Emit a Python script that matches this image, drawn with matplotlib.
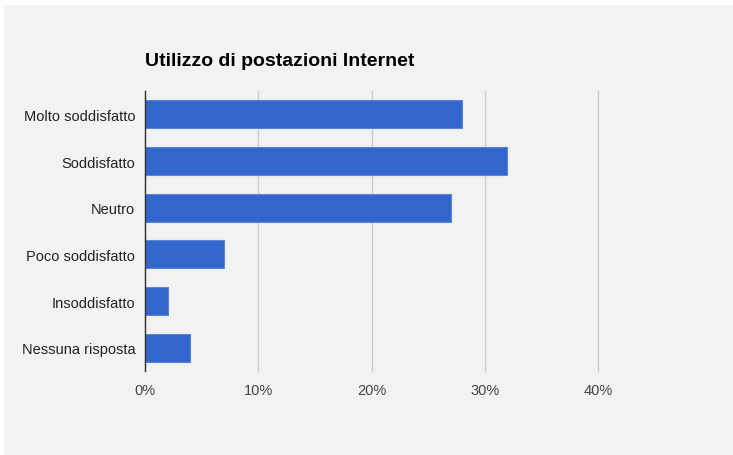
import matplotlib
matplotlib.use("Agg")
import matplotlib.pyplot as plt
from matplotlib.patches import Rectangle

categories = ["Molto soddisfatto", "Soddisfatto", "Neutro",
              "Poco soddisfatto", "Insoddisfatto", "Nessuna risposta"]
values = [28, 32, 27, 7, 2, 4]
x_ticks = [0, 10, 20, 30, 40]
x_tick_labels = ["0%", "10%", "20%", "30%", "40%"]
title = "Utilizzo di postazioni Internet"

W, H = 733, 456
fig = plt.figure(figsize=(W / 100, H / 100), dpi=100)
fig.patch.set_facecolor("white")

# light grey chart panel
fig.patches.append(Rectangle((4 / W, 0), 1 - 4 / W, 1 - 6 / H,
                             transform=fig.transFigure, facecolor="#f2f2f2",
                             edgecolor="none", zorder=-10))

left, right, top, bottom = 145, 598, 92, 372
ax = fig.add_axes([left / W, (H - bottom) / H, (right - left) / W, (bottom - top) / H])
ax.set_facecolor("none")

pos = list(range(len(categories)))
ax.barh(pos, values, height=0.6, color="#3366cc", edgecolor="#5a85d8",
        linewidth=0.8, zorder=3)

ax.set_xlim(0, 40)
ax.set_ylim(len(categories) - 0.5, -0.5)
ax.set_xticks(x_ticks)
ax.set_xticklabels(x_tick_labels)
ax.set_yticks(pos)
ax.set_yticklabels(categories)

ax.grid(axis="x", color="#cccccc", linewidth=1, zorder=1)
for gl in ax.get_xgridlines():
    gl.set_clip_on(False)
for s in ["top", "right", "bottom"]:
    ax.spines[s].set_visible(False)
ax.spines["left"].set_color("#333333")
ax.spines["left"].set_linewidth(1)
ax.spines["left"].set_zorder(4)

ax.tick_params(axis="x", length=0, pad=9, labelsize=10.5, labelcolor="#444444")
ax.tick_params(axis="y", length=0, pad=7, labelsize=10.5, labelcolor="#222222")
for lab in ax.get_xticklabels() + ax.get_yticklabels():
    lab.set_family("Liberation Sans")

fig.text(left / W, 1 - 66 / H, title, fontsize=14, fontweight="bold",
         family="Liberation Sans", color="#000000", ha="left", va="baseline")

fig.savefig("out.png", dpi=100, facecolor=fig.get_facecolor())
